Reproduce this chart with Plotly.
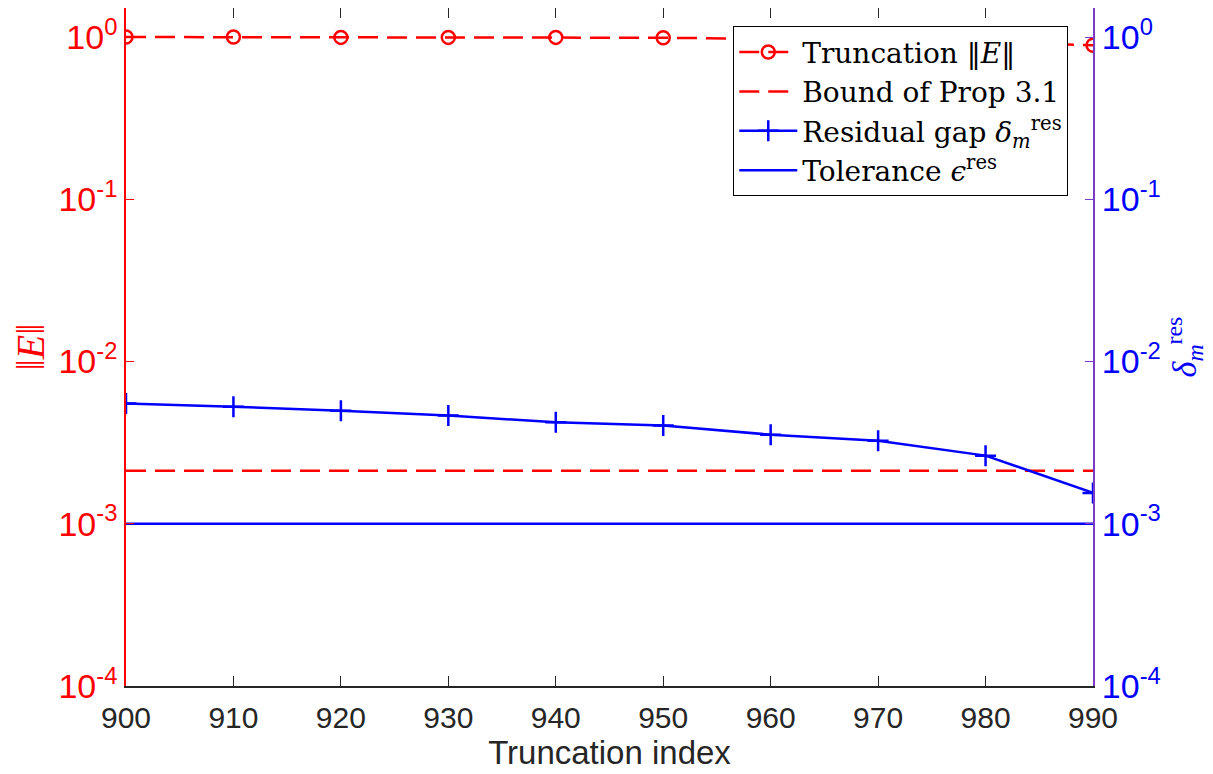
import plotly.graph_objects as go

x_index = [900, 910, 920, 930, 940, 950, 960, 970, 980, 990]
trunc_norm = [1.0, 1.0, 0.995, 0.995, 0.995, 0.99, 0.975, 0.955, 0.93, 0.89]
bound_prop31 = 2.12e-3
resid_gap = [5.51e-3, 5.27e-3, 4.98e-3, 4.64e-3, 4.22e-3, 4.03e-3, 3.54e-3, 3.25e-3, 2.63e-3, 1.55e-3]
tolerance = 1.0e-3

ytick_vals = [1e-4, 1e-3, 1e-2, 1e-1, 1]
ytick_text = ["10<sup>-4</sup>", "10<sup>-3</sup>", "10<sup>-2</sup>", "10<sup>-1</sup>", "10<sup>0</sup>"]
xtick_vals = [900, 910, 920, 930, 940, 950, 960, 970, 980, 990]

RED = "#ff0000"
BLUE = "#0000ff"
PURPLE = "#7a3cc8"
GRAY = "#262626"
dash = "20px,9px"
SANS = "Liberation Sans, Arial, sans-serif"
SERIF = "Liberation Serif, Times New Roman, serif"
LEGSERIF = "DejaVu Serif, Liberation Serif, serif"

fig = go.Figure()
fig.add_trace(go.Scatter(
    x=x_index, y=trunc_norm, mode="lines+markers", name="Truncation ‖<i>E</i>‖",
    line=dict(color=RED, width=2.5, dash=dash),
    marker=dict(symbol="circle-open", size=13, color=RED, line=dict(width=2.5, color=RED)),
    yaxis="y"))
fig.add_trace(go.Scatter(
    x=[x_index[0], x_index[-1]], y=[bound_prop31, bound_prop31], mode="lines",
    name="Bound of Prop 3.1", line=dict(color=RED, width=2.5, dash=dash), yaxis="y"))
fig.add_trace(go.Scatter(
    x=x_index, y=resid_gap, mode="lines+markers",
    name="Residual gap <i>δ</i><sub><i>m</i></sub><sup>res</sup>",
    line=dict(color=BLUE, width=2.5),
    marker=dict(symbol="cross-thin", size=15, color=BLUE, line=dict(width=2.5, color=BLUE)),
    yaxis="y2"))
fig.add_trace(go.Scatter(
    x=[x_index[0], x_index[-1]], y=[tolerance, tolerance], mode="lines",
    name="Tolerance <i>ϵ</i><sup>res</sup>", line=dict(color=BLUE, width=2.5), yaxis="y2"))

fig.update_layout(
    width=1205, height=766,
    margin=dict(l=118, r=120, t=0, b=88),
    paper_bgcolor="white", plot_bgcolor="white",
    showlegend=True,
    legend=dict(
        x=0.628, y=0.973, xanchor="left", yanchor="top",
        bgcolor="white", bordercolor="#000000", borderwidth=1,
        font=dict(family=LEGSERIF, size=28, color="#000000"),
        tracegroupgap=0, itemwidth=58,
    ),
    xaxis=dict(
        range=[900, 990], tickvals=xtick_vals, ticktext=[str(v) for v in xtick_vals],
        ticks="inside", ticklen=10, tickcolor=GRAY, tickwidth=1,
        showline=True, linecolor=GRAY, linewidth=1.5, mirror="ticks",
        showgrid=False, zeroline=False, automargin=False, ticklabelstandoff=4,
        tickfont=dict(family=SANS, size=30, color=GRAY),
        title=dict(text="Truncation index", standoff=8,
                   font=dict(family=SANS, size=33, color=GRAY)),
    ),
    yaxis=dict(
        type="log", range=[-4, 0.179], tickvals=ytick_vals, ticktext=ytick_text,
        ticks="inside", ticklen=8, tickcolor=RED, tickwidth=1,
        showline=True, linecolor=RED, linewidth=1.5,
        showgrid=False, zeroline=False, automargin=False,
        tickfont=dict(family=SANS, size=34, color=RED),
        title=dict(text="‖<i>E</i>‖", standoff=9,
                   font=dict(family=SERIF, size=40, color=RED)),
    ),
    yaxis2=dict(
        type="log", range=[-4, 0.179], tickvals=ytick_vals, ticktext=ytick_text,
        overlaying="y", side="right",
        ticks="inside", ticklen=8, tickcolor=PURPLE, tickwidth=1,
        showline=True, linecolor=PURPLE, linewidth=2,
        showgrid=False, zeroline=False, automargin=False,
        tickfont=dict(family=SANS, size=34, color=BLUE),
        title=dict(text="<i>δ</i><sub><i>m</i></sub><sup>res</sup>", standoff=10,
                   font=dict(family=SERIF, size=34, color=BLUE)),
    ),
)

fig.write_html("out.html")
